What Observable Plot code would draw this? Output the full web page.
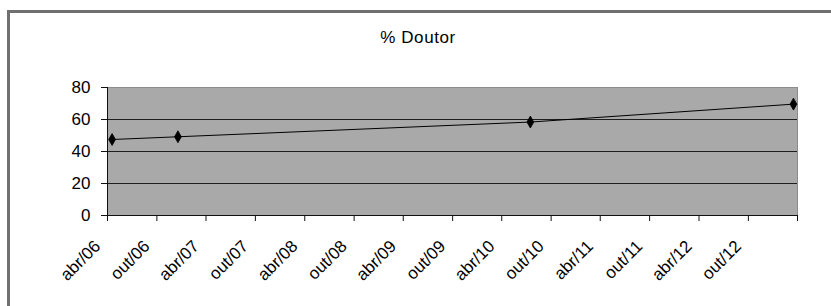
<!DOCTYPE html>
<html><head><meta charset="utf-8">
<script src="https://cdn.jsdelivr.net/npm/d3@7"></script>
<script src="https://cdn.jsdelivr.net/npm/@observablehq/plot@0.6"></script>
<style>
body{margin:0;background:#fff;overflow:hidden}
#wrap{position:relative;width:831px;height:306px;overflow:hidden;font-family:"Liberation Sans",Arial,sans-serif}
#frame{position:absolute;left:7px;top:10px;width:840px;height:320px;border:3px solid #707070;box-sizing:border-box;pointer-events:none}
#title{position:absolute;left:0;width:836px;top:28px;text-align:center;font-size:17px;line-height:20px;letter-spacing:0.6px;color:#000}
#chart{position:absolute;left:0;top:0}
</style></head>
<body>
<div id="wrap"><div id="chart"></div><div id="frame"></div><div id="title">% Doutor</div></div>
<script>
// Data
const dates = ["2006-04-18", "2006-12-18", "2010-07-16", "2013-03-17"];
const values = [47.5, 49.2, 58.4, 69.6];
const tickDates = ["2006-04-01","2006-10-01","2007-04-01","2007-10-01","2008-04-01","2008-10-01","2009-04-01","2009-10-01","2010-04-01","2010-10-01","2011-04-01","2011-10-01","2012-04-01","2012-10-01","2013-04-01"];
const tickLabels = ["abr/06","out/06","abr/07","out/07","abr/08","out/08","abr/09","out/09","abr/10","out/10","abr/11","out/11","abr/12","out/12",""];
const yTicks = [0, 20, 40, 60, 80];
const gridValues = [20, 40, 60];

const data = dates.map((d, i) => ({date: new Date(d), value: values[i]}));
const ticks = tickDates.map(d => new Date(d));
const labelMap = new Map(ticks.map((d, i) => [+d, tickLabels[i]]));
const x0 = ticks[0], x1 = ticks[ticks.length - 1];

const chart = Plot.plot({
  width: 831, height: 306,
  marginLeft: 107, marginRight: 34, marginTop: 87, marginBottom: 91,
  style: {fontFamily: '"Liberation Sans", Arial, sans-serif', fontSize: "17px", background: "transparent", color: "#000"},
  x: {type: "utc", domain: [x0, x1]},
  y: {domain: [0, 80]},
  marks: [
    Plot.frame({fill: "#a9a9a9", stroke: "#8c8c8c"}),
    Plot.ruleY(gridValues, {stroke: "#1e1e1e", strokeWidth: 1.2}),
    Plot.ruleY([0], {stroke: "#111"}),
    Plot.ruleX([x0], {stroke: "#111"}),
    Plot.axisY({ticks: yTicks, tickSize: 6, tickPadding: 11, label: null, stroke: "#111"}),
    Plot.axisX({ticks: ticks, tickFormat: () => "", tickSize: 6, label: null, stroke: "#111"}),
    Plot.axisX({ticks: ticks, tickFormat: d => labelMap.get(+d), tickRotate: -45, tickSize: 0, tickPadding: 28, dx: -10, label: null}),
    Plot.line(data, {x: "date", y: "value", stroke: "#000", strokeWidth: 1}),
    Plot.dot(data, {x: "date", y: "value", symbol: "diamond", r: 3.6, fill: "#000", stroke: "#000", strokeWidth: 0.8})
  ]
});
document.getElementById("chart").appendChild(chart);
</script>
</body></html>
